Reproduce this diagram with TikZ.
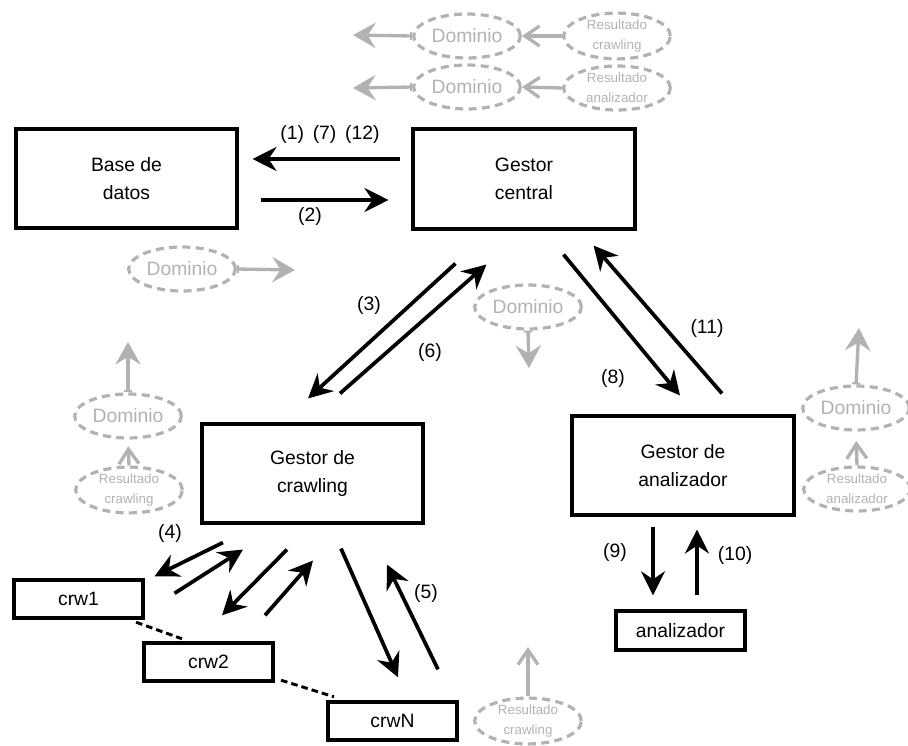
\documentclass[tikz,border=0pt]{standalone}
\usepackage{fontspec}
\setmainfont{Liberation Sans}
\usetikzlibrary{arrows.meta,shapes.geometric}
\definecolor{gris}{RGB}{178,178,178}
\begin{document}
\begin{tikzpicture}[x=0.75pt,y=-0.75pt,line width=2.8pt,
  caja/.style={draw,align=center,font=\fontsize{14.5}{20.8}\selectfont,minimum width=166pt,minimum height=74.5pt},
  cajita/.style={draw,font=\fontsize{14.5}{17}\selectfont,minimum width=97pt,minimum height=29pt},
  flecha/.style={-{Stealth[length=18pt,width=18pt,inset=6pt]}},
  etiq/.style={font=\fontsize{14.5}{17}\selectfont},
  dom/.style={ellipse,draw=gris,line width=2.4pt,dash pattern=on 6pt off 4pt,text=gris,inner sep=0pt,font=\fontsize{14.5}{17}\selectfont,minimum width=80pt,minimum height=33pt},
  res/.style={dom,align=center,font=\fontsize{10}{15}\selectfont},
  gflecha/.style={draw=gris,line width=2.5pt,{Bar[width=6pt,line width=1.5pt]}-{Stealth[length=17pt,width=19pt,inset=6pt]}},
  gpua/.style={draw=gris,line width=2.5pt,-{Straight Barb[length=11pt,width=15pt]}}]
\useasboundingbox (0,0) rectangle (908,746);
% cajas
\node[caja] (bd) at (126.5,178.5) {Base de\\datos};
\node[caja] (gc) at (524,179) {Gestor\\central};
\node[caja] (gcr) at (312.5,473.5) {Gestor de\\crawling};
\node[caja] (ga) at (683,465.5) {Gestor de\\analizador};
\node[cajita] (crw1) at (78.5,599) {crw1};
\node[cajita] (crw2) at (208.5,662) {crw2};
\node[cajita] (crwN) at (392.5,721) {crwN};
\node[cajita] (an) at (680.5,630.5) {analizador};
% flechas
\draw[flecha] ([shift={(-11,-20)}]gc.west) -- ([shift={(13.5,-19.5)}]bd.east);
\draw[flecha] ([shift={(21.5,21.5)}]bd.east) -- ([shift={(-23,21)}]gc.west);
\draw[flecha] ([shift={(44,33)}]gc.south west) -- ([shift={(-4.5,-23.5)}]gcr.north);
\draw[flecha] ([shift={(27.5,-28.5)}]gcr.north) -- ([shift={(75,34)}]gc.south west);
\draw[flecha] ([shift={(-73,24)}]gc.south east) -- ([shift={(-3,-18.5)}]ga.north);
\draw[flecha] ([shift={(39,-20.5)}]ga.north) -- ([shift={(-43,15)}]gc.south east);
\draw[flecha] ([shift={(-30,9.5)}]ga.south) -- ([shift={(-27.5,-14)}]an.north);
\draw[flecha] ([shift={(16.5,-14)}]an.north) -- ([shift={(14,12.5)}]ga.south);
\draw[flecha] ([shift={(-89.5,17.5)}]gcr.south) -- ([shift={(9.5,-1.5)}]crw1.north east);
\draw[flecha] ([shift={(29.5,15.5)}]crw1.north east) -- ([shift={(-69.5,24.5)}]gcr.south);
\draw[flecha] ([shift={(-25.5,24.5)}]gcr.south) -- ([shift={(13.5,-25.5)}]crw2.north);
\draw[flecha] ([shift={(56.5,-25.5)}]crw2.north) -- ([shift={(0.5,35.5)}]gcr.south);
\draw[flecha] ([shift={(28.5,23.5)}]gcr.south) -- ([shift={(5.5,-22.5)}]crwN.north);
\draw[flecha] ([shift={(45.5,-30.5)}]crwN.north) -- ([shift={(74.5,39.5)}]gcr.south);
\draw[line width=2.2pt,dash pattern=on 5pt off 3pt] ([shift={(-9,2)}]crw1.south east) -- ([shift={(40,-2)}]crw2.north west);
\draw[line width=2.2pt,dash pattern=on 5pt off 3pt] ([shift={(6,-3)}]crw2.south east) -- ([shift={(8,-3)}]crwN.north west);
% etiquetas
\node[etiq] (e1) at (330,134) {(1)\hspace{0.45em}(7)\hspace{0.45em}(12)};
\node[etiq] (e2) at (310,216) {(2)};
\node[etiq] (e3) at (369,305) {(3)};
\node[etiq] (e6) at (430,352) {(6)};
\node[etiq] (e8) at (613,378) {(8)};
\node[etiq] (e11) at (707,328) {(11)};
\node[etiq] (e9) at (615,552) {(9)};
\node[etiq] (e10) at (735,555) {(10)};
\node[etiq] (e4) at (170,533) {(4)};
\node[etiq] (e5) at (426,593) {(5)};
% dominios
\node[dom] (d1) at (467,36) {Dominio};
\node[res] (r1) at (617,36) {Resultado\\crawling};
\node[dom] (d2) at (467,87) {Dominio};
\node[res] (r2) at (617,88) {Resultado\\analizador};
\node[dom] (d3) at (182,269) {Dominio};
\node[dom] (d4) at (528,307) {Dominio};
\node[dom] (d5) at (128,416) {Dominio};
\node[res] (r3) at (129,490) {Resultado\\crawling};
\node[dom] (d6) at (856,408) {Dominio};
\node[res] (r4) at (857,489) {Resultado\\analizador};
\node[res] (r5) at (528,721) {Resultado\\crawling};
\coordinate (s1) at (353,35);
\coordinate (s2) at (353,88);
\coordinate (s3) at (295,270);
\coordinate (s4) at (529,368);
\coordinate (s5) at (128,342);
\coordinate (s6) at (859,328);
\coordinate (s7) at (528,647);
\draw[gflecha] (d1.west) -- (s1);
\draw[gflecha] (d2.west) -- (s2);
\draw[gflecha] (d3.east) -- (s3);
\draw[gflecha] (d4.south) -- (s4);
\draw[gflecha] (d5.north) -- (s5);
\draw[gflecha] (d6.north) -- (s6);
\draw[gpua] (r1.west) -- (d1.east);
\draw[gpua] (r2.west) -- (d2.east);
\draw[gpua,shorten >=5pt] (r3.north) -- (d5.south);
\draw[gpua,shorten >=7pt] (r4.north) -- (d6.south);
\draw[gpua] (r5.north) -- (s7);
\end{tikzpicture}
\end{document}
